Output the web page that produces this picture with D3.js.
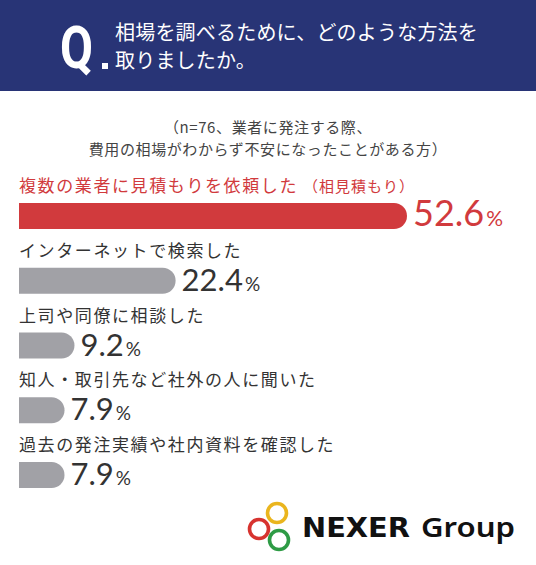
<!DOCTYPE html>
<html>
<head>
<meta charset="utf-8">
<script src="https://cdn.jsdelivr.net/npm/d3@7"></script>
<style>
  html, body { margin: 0; padding: 0; background: #fff; }
  svg { display: block; }
</style>
</head>
<body>
<div id="chart"></div>
<script>
var width = 536;
var height = 565;

var titleLines = ["相場を調べるために、どのような方法を", "取りましたか。"];
var noteLines = ["（n=76、業者に発注する際、", "費用の相場がわからず不安になったことがある方）"];
var categories = [
  "複数の業者に見積もりを依頼した",
  "インターネットで検索した",
  "上司や同僚に相談した",
  "知人・取引先など社外の人に聞いた",
  "過去の発注実績や社内資料を確認した"
];
var categoryNotes = ["（相見積もり）", "", "", "", ""];
var values = [52.6, 22.4, 9.2, 7.9, 7.9];

var navy = "#283476";
var red = "#d13a3d";
var grey = "#a1a1a6";
var ink = "#333333";

var svg = d3.select("#chart").append("svg")
  .attr("width", width)
  .attr("height", height);

// header band
svg.append("rect")
  .attr("x", 0).attr("y", 0)
  .attr("width", width).attr("height", 91)
  .attr("fill", navy);

svg.append("text")
  .attr("x", 60).attr("y", 68)
  .attr("fill", "#fff")
  .attr("font-family", "Roboto, sans-serif")
  .attr("font-weight", 700)
  .attr("font-size", 60)
  .attr("textLength", 33)
  .attr("lengthAdjust", "spacingAndGlyphs")
  .text("Q");

svg.append("rect")
  .attr("x", 102).attr("y", 63)
  .attr("width", 6).attr("height", 6)
  .attr("fill", "#fff");

svg.selectAll(".title")
  .data(titleLines)
  .enter().append("text")
  .attr("class", "title")
  .attr("x", 115)
  .attr("y", function(d, i) { return 40 + i * 28; })
  .attr("fill", "#fff")
  .attr("font-family", "'Noto Sans CJK JP', sans-serif")
  .attr("font-size", 20)
  .attr("letter-spacing", 0.2)
  .text(function(d) { return d; });

svg.selectAll(".note")
  .data(noteLines)
  .enter().append("text")
  .attr("class", "note")
  .attr("x", 268)
  .attr("y", function(d, i) { return 133 + i * 22; })
  .attr("text-anchor", "middle")
  .attr("fill", "#444")
  .attr("font-family", "'Noto Sans CJK JP', sans-serif")
  .attr("font-size", 15)
  .attr("letter-spacing", 0.6)
  .text(function(d) { return d; });

// bars
var x0 = 19;
var x = d3.scaleLinear()
  .domain([0, 52.6])
  .range([4, 407]);

var y = d3.scalePoint()
  .domain(d3.range(categories.length))
  .range([203, 462]);

var barH = 26;
var r = 13;

function barPath(len) {
  var w = Math.max(len, r);
  return "M0,0H" + (w - r) +
    "A" + r + "," + r + " 0 0 1 " + (w - r) + "," + barH +
    "H0Z";
}

var row = svg.selectAll(".row")
  .data(values)
  .enter().append("g")
  .attr("class", "row")
  .attr("transform", function(d, i) { return "translate(0," + y(i) + ")"; });

row.append("path")
  .attr("transform", "translate(" + x0 + ",0)")
  .attr("d", function(d) { return barPath(x(d) - x0); })
  .attr("fill", function(d, i) { return i === 0 ? red : grey; });

var label = row.append("text")
  .attr("x", x0)
  .attr("y", -11)
  .attr("fill", function(d, i) { return i === 0 ? red : ink; })
  .attr("font-family", "'Noto Sans CJK JP', sans-serif")
  .attr("font-size", 17)
  .attr("letter-spacing", 1.6);

label.append("tspan")
  .text(function(d, i) { return categories[i]; });

label.append("tspan")
  .attr("font-size", 15)
  .attr("letter-spacing", 1)
  .attr("dx", 5)
  .text(function(d, i) { return categoryNotes[i]; });

var num = row.append("text")
  .attr("x", function(d) { return x(d) + 6; })
  .attr("y", 23)
  .attr("fill", function(d, i) { return i === 0 ? red : ink; })
  .attr("font-family", "Lato, sans-serif")
  .attr("font-size", function(d, i) { return i === 0 ? 36 : 31; });

num.append("tspan")
  .text(function(d) { return d.toFixed(1); });

num.append("tspan")
  .attr("dx", 2)
  .attr("font-size", function(d, i) { return i === 0 ? 21 : 19; })
  .text("%");

// logo
var rings = [
  { cx: 277, cy: 513, color: "#eab51e" },
  { cx: 259, cy: 529, color: "#d7332f" },
  { cx: 279, cy: 540, color: "#2e9b45" }
];

svg.selectAll(".ring")
  .data(rings)
  .enter().append("circle")
  .attr("class", "ring")
  .attr("cx", function(d) { return d.cx; })
  .attr("cy", function(d) { return d.cy; })
  .attr("r", 9.5)
  .attr("fill", "none")
  .attr("stroke", function(d) { return d.color; })
  .attr("stroke-width", 3.6);

svg.append("text")
  .attr("x", 302)
  .attr("y", 537)
  .attr("fill", "#111")
  .attr("font-family", "'DejaVu Sans', sans-serif")
  .attr("font-weight", 700)
  .attr("font-size", 26)
  .attr("textLength", 108)
  .attr("lengthAdjust", "spacingAndGlyphs")
  .text("NEXER");

svg.append("text")
  .attr("x", 421)
  .attr("y", 537)
  .attr("fill", "#111")
  .attr("font-family", "'Noto Sans', sans-serif")
  .attr("font-weight", 600)
  .attr("font-size", 27)
  .attr("textLength", 94)
  .attr("lengthAdjust", "spacingAndGlyphs")
  .text("Group");
</script>
</body>
</html>
